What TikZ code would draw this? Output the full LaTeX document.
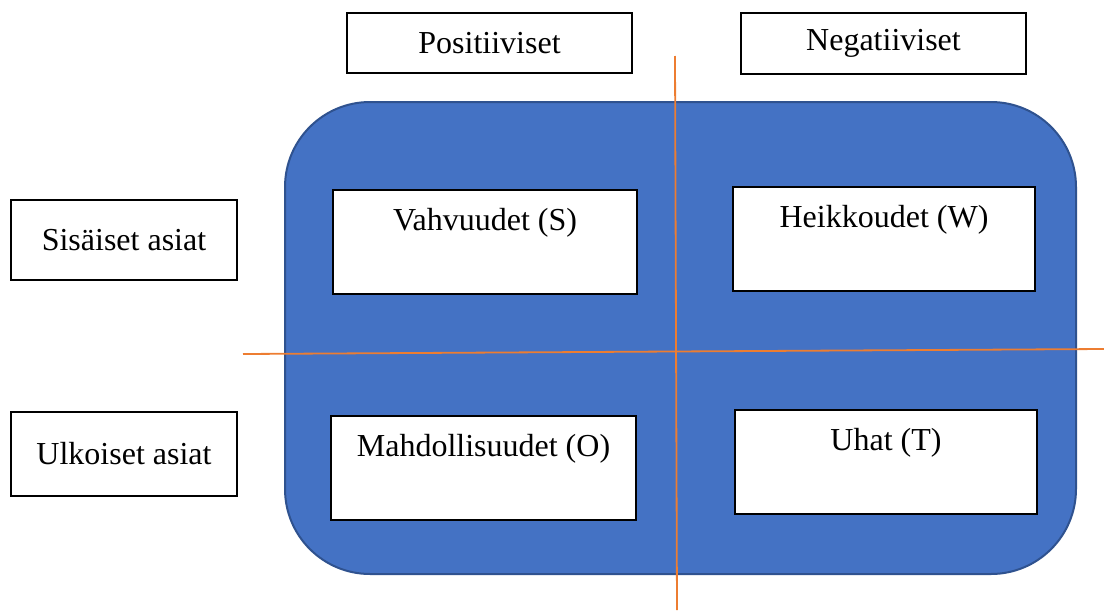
\documentclass[tikz,border=0pt]{standalone}
\usepackage{fontspec}
\setmainfont{Liberation Serif}
\definecolor{swotblue}{HTML}{4472C4}
\definecolor{swotborder}{HTML}{2F528F}
\definecolor{swotorange}{HTML}{ED7D31}
\begin{document}
\begin{tikzpicture}[x=1pt,y=-1pt,
  lbl/.style={draw=black, line width=1.2pt, fill=white, inner sep=0pt, font=\fontsize{32}{36}\selectfont},
  quad/.style={draw=black, line width=1.2pt, fill=white, inner sep=0pt, minimum height=104pt},
  qtext/.style={font=\fontsize{32}{36}\selectfont, yshift=-33pt, inner sep=0pt},
  axis/.style={draw=swotorange, line width=1.8pt}]
\useasboundingbox (0,0) rectangle (1104,616);
\node[draw=swotborder, fill=swotblue, line width=2pt, rounded corners=85pt,
      minimum width=791pt, minimum height=472pt, inner sep=0pt] (frame) at (680.5,338) {};
\node[lbl, minimum width=285pt, minimum height=60pt] (pos) at (489.5,43) {Positiiviset};
\node[lbl, minimum width=285pt, minimum height=61pt] (neg) at (883.5,43.5) {Negatiiviset};
\node[lbl, minimum width=226pt, minimum height=80pt] (int) at (124,240) {Sisäiset asiat};
\node[lbl, minimum width=226pt, minimum height=84pt] (ext) at (124,454) {Ulkoiset asiat};
\node[quad, minimum width=304pt] (S) at (485,242) {};
\node[qtext] (St) at (S.north) {Vahvuudet (S)};
\node[quad, minimum width=302pt] (W) at (884,239) {};
\node[qtext] (Wt) at (W.north) {Heikkoudet (W)};
\node[quad, minimum width=305pt] (O) at (483.5,468) {};
\node[qtext] (Ot) at (O.north) {Mahdollisuudet (O)};
\node[quad, minimum width=302pt] (T) at (886,462) {};
\node[qtext] (Tt) at (T.north) {Uhat (T)};
\coordinate (vtop) at (675,56);
\coordinate (vbot) at (677,610);
\coordinate (hleft) at (243,354);
\coordinate (hright) at (1104,349);
\draw[axis] (vtop) -- (vbot);
\draw[axis] (hleft) -- (hright);
\end{tikzpicture}
\end{document}
